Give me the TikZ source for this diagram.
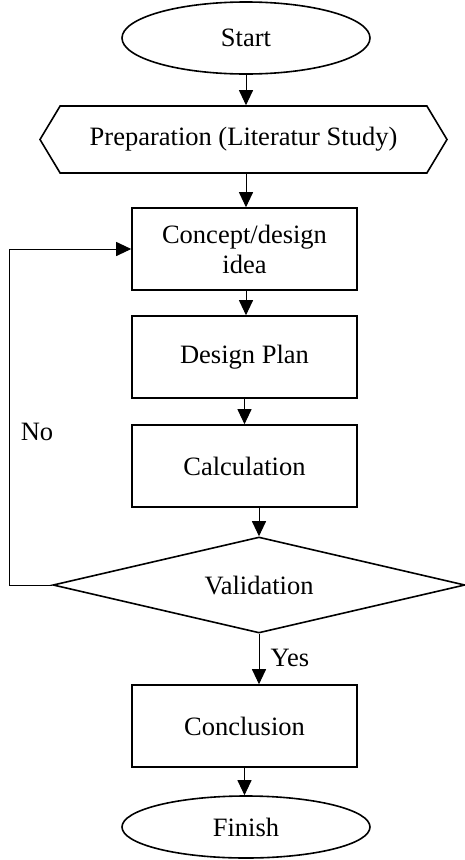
\documentclass[tikz,border=0pt]{standalone}
\usepackage{fontspec}
\setmainfont{Liberation Serif}
\usetikzlibrary{shapes.geometric,shapes.symbols,arrows.meta}
\begin{document}
\begin{tikzpicture}[x=1pt,y=1pt,
  font=\fontsize{26.5}{30}\selectfont,
  shapebox/.style={draw,line width=1.6pt,inner sep=0pt,align=center},
  term/.style={shapebox,ellipse,minimum width=248pt},
  procbox/.style={shapebox,rectangle,minimum width=225pt,minimum height=82pt},
  arr/.style={line width=1pt,-{Triangle[width=14pt,length=15pt]}}]
\useasboundingbox (0,0) rectangle (465,-860);
\node[term,minimum height=72pt] (start) at (246,-38) {Start};
\node[shapebox,signal,signal to=west and east,signal pointer angle=118,minimum width=407pt,minimum height=67pt] (prep) at (243.5,-139.5) {Preparation (Literatur Study)};
\node[procbox] (concept) at (244.5,-249) {Concept/design\\idea};
\node[procbox] (design) at (244.5,-357) {Design Plan};
\node[procbox] (calc) at (244.5,-466) {Calculation};
\node[shapebox,diamond,shape aspect=4.3,minimum width=412pt,minimum height=96pt] (valid) at (259,-585) {Validation};
\node[procbox] (concl) at (244.5,-726) {Conclusion};
\node[term,minimum height=62pt] (finish) at (246,-827) {Finish};
\coordinate (fb) at (9,-585);
\draw[arr] (start.south) -- (start.south |- prep.north);
\draw[arr] (prep.south -| start.south) -- (start.south |- concept.north);
\draw[arr] (concept.south -| start.south) -- (start.south |- design.north);
\draw[arr] (design.south) -- (calc.north);
\draw[arr] (calc.south -| valid.north) -- (valid.north);
\draw[arr] (valid.south) -- (valid.south |- concl.north);
\draw[arr] (concl.south) -- (concl.south |- finish.north);
\draw[arr] (valid.west) -- (fb) |- (concept.west);
\node (no) at (37,-432) {No};
\node (yes) at (290,-658) {Yes};
\end{tikzpicture}
\end{document}
